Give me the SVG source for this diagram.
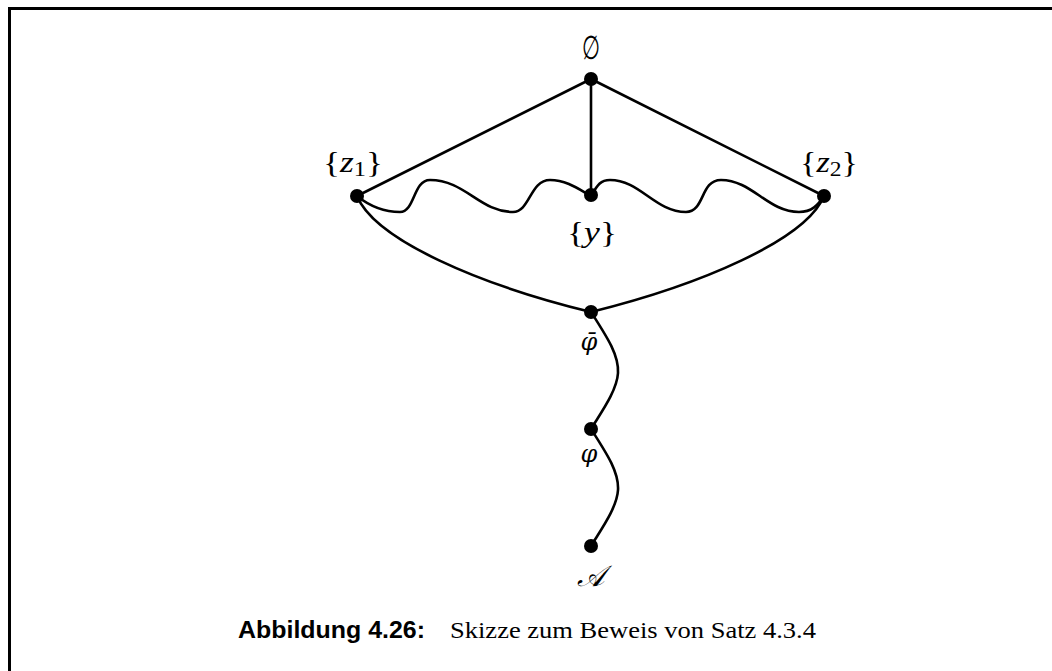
<svg xmlns="http://www.w3.org/2000/svg" width="1052" height="671" viewBox="0 0 1052 671">
<style>
.e{fill:none;stroke:#000;stroke-width:2.6;stroke-linecap:round}
.n{fill:#000}
.m{font-family:"Liberation Serif","DejaVu Serif",serif;font-size:29px;fill:#000}
.c{text-anchor:middle}
.i{font-style:italic}
.sub{font-size:20px}
</style>
<rect width="1052" height="671" fill="#fff"/>
<path d="M9.5,671 V8.5 H1052" fill="none" stroke="#000" stroke-width="3"/>
<g id="connectors">
<path class="e" d="M591,79 L357,196"/>
<path class="e" d="M591,79 L591,195"/>
<path class="e" d="M591,79 L824,196"/>
<path class="e" d="M357,196 C372,208 386,212 400,212 C415,212 413,180 430,180 C465,180 480,212 513,212 C530,212 530,180 550,180 C567,180 580,190 591,196"/>
<path class="e" d="M591,196 C597,186 600,180 610,180 C640,180 655,212 686,212 C705,212 700,180 721,180 C752,180 768,212 799,212 C812,212 818,205 824,196"/>
<path class="e" d="M357,196 C375,240 480,285 591,312"/>
<path class="e" d="M824,196 C806,240 700,285 591,312"/>
<path class="e" d="M591,312 C607,337 619,355 618,373 C617,391 600,414 591,429"/>
<path class="e" d="M591,429 C607,454 619,472 618,490 C617,508 600,531 591,546"/>
</g>
<g id="n-empty"><circle class="n" cx="591" cy="79" r="7"/><text class="m c" transform="translate(591,59) scale(0.72,1.15)">∅</text></g>
<g id="n-z1"><circle class="n" cx="357" cy="196" r="7"/><text class="m" x="323" y="172" textLength="60" lengthAdjust="spacingAndGlyphs">{<tspan class="i">z</tspan><tspan class="sub" dy="4">1</tspan><tspan dy="-4">}</tspan></text></g>
<g id="n-y"><circle class="n" cx="591" cy="195" r="7"/><text class="m" x="567" y="242" textLength="50" lengthAdjust="spacingAndGlyphs">{<tspan class="i">y</tspan>}</text></g>
<g id="n-z2"><circle class="n" cx="824" cy="196" r="7"/><text class="m" x="800" y="172" textLength="58" lengthAdjust="spacingAndGlyphs">{<tspan class="i">z</tspan><tspan class="sub" dy="4">2</tspan><tspan dy="-4">}</tspan></text></g>
<g id="n-phibar"><circle class="n" cx="591" cy="312" r="7"/><text class="c i" x="589" y="350" font-family="DejaVu Serif,serif" font-size="24">φ̄</text></g>
<g id="n-phi"><circle class="n" cx="591" cy="429" r="7"/><text class="c i" x="589" y="462" font-family="DejaVu Serif,serif" font-size="24">φ</text></g>
<g id="n-A"><circle class="n" cx="591" cy="546" r="7"/><text class="m c i" x="590" y="586" font-size="30">𝒜</text></g>
<g id="caption"><text x="238" y="638" font-family="Liberation Sans,sans-serif" font-weight="bold" font-size="23" textLength="187" lengthAdjust="spacingAndGlyphs">Abbildung 4.26:</text><text x="450" y="638" font-family="Liberation Serif,serif" font-size="24" textLength="366" lengthAdjust="spacingAndGlyphs">Skizze zum Beweis von Satz 4.3.4</text></g>
</svg>
